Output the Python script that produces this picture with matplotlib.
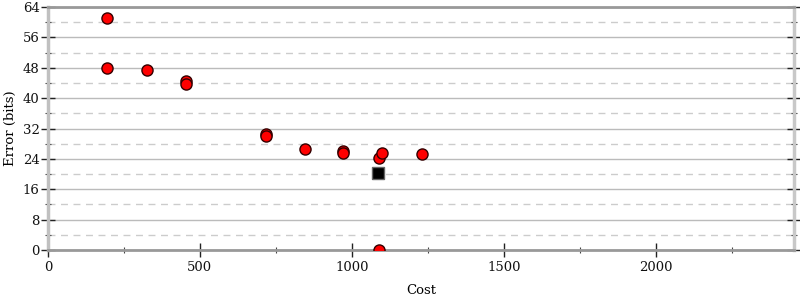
import numpy as np
import matplotlib
matplotlib.use("Agg")
import matplotlib.pyplot as plt
from matplotlib.ticker import MultipleLocator

# alternative programs: cost vs error
cost = [195, 195, 325, 455, 455, 718, 718, 845, 970, 970, 1090, 1100, 1230, 1090]
error = [61.2, 48.0, 47.3, 44.5, 43.8, 30.5, 30.0, 26.6, 26.2, 25.6, 24.3, 25.5, 25.4, 0.0]

# initial program
init_cost = [1085]
init_error = [20.2]

plt.rcParams['font.family'] = ['DejaVu Serif']

fig = plt.figure(figsize=(8, 3), dpi=100)
ax = fig.add_axes([48/800, 50/300, (794-48)/800, 243/300])

ax.set_xlim(0, 2455)
ax.set_ylim(0, 64)

ax.xaxis.set_major_locator(MultipleLocator(500))
ax.xaxis.set_minor_locator(MultipleLocator(250))
ax.yaxis.set_major_locator(MultipleLocator(8))
ax.yaxis.set_minor_locator(MultipleLocator(4))

ax.grid(True, which='major', axis='y', color='#bbbbbb', lw=1, ls='-')
ax.grid(True, which='minor', axis='y', color='#cccccc', lw=1, ls=(0, (5, 4)))
ax.set_axisbelow(True)

ax.plot(cost, error, 'o', ms=8, mfc='#ff0000', mec='#330000', mew=1, zorder=3)
ax.plot(init_cost, init_error, 's', ms=9, mfc='black', mec='#666666', mew=1, zorder=3)

ax.tick_params(axis='both', which='major', direction='inout', length=10, width=1,
               color='#222222', labelsize=9.5, labelcolor='#111111')
ax.tick_params(axis='both', which='minor', direction='inout', length=5, width=0.8,
               color='#444444')
ax.tick_params(axis='y', which='both', right=True)
ax.tick_params(axis='y', which='major', pad=1)
ax.tick_params(axis='x', which='major', pad=3)

ax.spines['left'].set_color('#c0c0c0')
ax.spines['left'].set_linewidth(2.5)
ax.spines['right'].set_color('#c8c8c8')
ax.spines['right'].set_linewidth(2.5)
ax.spines['top'].set_color('#999999')
ax.spines['top'].set_linewidth(2)
ax.spines['bottom'].set_color('#999999')
ax.spines['bottom'].set_linewidth(2)

ax.set_xlabel("Cost", fontsize=9.5, labelpad=7)
ax.set_ylabel("Error (bits)", fontsize=9.5, labelpad=4)

fig.savefig("out.png", dpi=100)
